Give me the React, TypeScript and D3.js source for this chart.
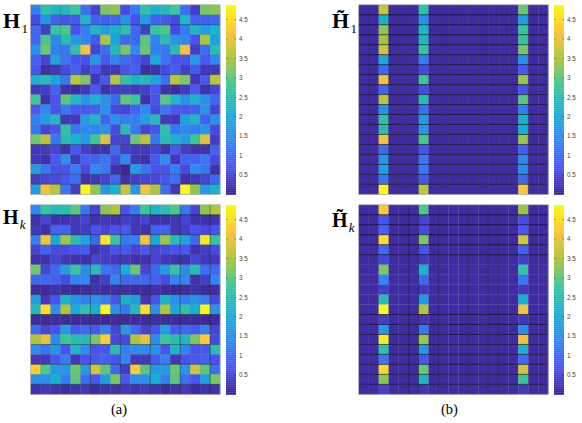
import React from "react";
import * as d3 from "d3";

const H1: number[][] = [
[1.3,2.6,2.3,2.4,2.8,1.1,0.5,3.2,3.3,0.6,1.2,2.6,2.2,2.4,2.8,1.1,0.4,3.2,3.3],
[0.6,1.7,0.9,0.7,0.8,2.3,0.9,0.9,1.0,1.7,0.7,1.8,0.9,0.8,0.6,2.3,0.9,0.9,1.0],
[1.0,0.4,2.7,2.9,0.7,1.3,2.3,1.8,2.2,2.6,1.0,0.4,2.7,2.9,0.6,1.3,2.3,1.8,2.2],
[1.0,2.9,1.5,2.5,1.7,1.4,0.8,3.5,1.9,1.0,1.0,3.0,1.4,2.5,1.7,1.4,0.7,3.5,1.9],
[1.6,3.1,1.3,1.2,2.6,4.1,0.5,1.1,2.4,3.2,1.5,3.1,1.3,1.2,2.5,4.1,0.4,1.1,2.5],
[0.9,0.5,1.9,1.2,0.7,0.7,1.7,0.8,1.4,1.0,0.8,0.5,2.0,1.2,0.7,0.7,1.7,0.8,1.4],
[0.8,0.15,0.3,0.6,0.9,0.4,0.7,0.3,0.3,0.7,0.9,0.15,0.2,0.6,0.9,0.4,0.8,0.3,0.3],
[2.2,2.4,1.9,1.2,3.6,3.2,0.3,0.8,3.6,2.6,2.2,2.4,1.9,1.1,3.6,3.2,0.3,0.8,3.6],
[0.3,0.4,0.9,0.2,0.1,0.3,0.8,0.2,0.4,0.4,0.3,0.4,0.8,0.2,0.1,0.3,0.8,0.2,0.5],
[2.8,0.2,0.7,3.0,2.3,1.7,2.2,1.6,1.0,3.0,2.8,0.2,0.7,3.0,2.3,1.6,2.2,1.6,1.0],
[0.8,1.5,0.7,1.2,0.8,0.8,0.9,1.6,0.6,0.5,0.9,1.5,0.6,1.2,0.8,0.8,0.9,1.6,0.5],
[1.3,1.8,2.3,0.3,0.3,1.8,2.3,0.9,1.6,1.3,1.3,1.8,2.4,0.3,0.3,1.8,2.3,0.9,1.6],
[1.2,0.5,0.7,2.6,1.2,1.5,1.4,1.7,0.6,2.5,1.2,0.5,0.7,2.6,1.2,1.5,1.3,1.7,0.6],
[3.1,3.6,1.2,2.5,2.2,1.8,2.8,3.9,0.5,0.5,3.1,3.6,1.2,2.5,2.2,1.8,2.8,3.9,0.4],
[0.3,0.3,0.5,0.2,0.8,0.4,0.2,0.2,1.0,0.4,0.3,0.3,0.5,0.2,0.8,0.4,0.2,0.2,0.9],
[0.3,0.2,0.8,1.6,0.3,0.9,0.9,1.2,0.6,1.5,0.3,0.2,0.8,1.6,0.3,0.9,0.9,1.2,0.6],
[1.8,1.2,0.7,0.7,1.3,0.6,1.5,1.2,0.2,0.05,1.8,1.2,0.7,0.7,1.3,0.6,1.5,1.2,0.2],
[0.4,0.5,0.6,0.8,1.1,0.2,0.3,0.5,1.0,0.2,0.4,0.5,0.6,0.8,1.1,0.2,0.3,0.5,1.0],
[1.8,4.1,3.6,1.2,0.4,4.85,3.3,1.7,2.2,3.7,1.7,4.1,3.5,1.1,0.3,4.85,3.3,1.7,2.2],
];

const Hk: number[][] = [
[1.4,2.7,2.4,2.5,3.0,1.2,0.5,3.3,3.5,0.7,1.3,2.8,2.3,2.5,2.9,1.2,0.5,3.3,3.5],
[0.2,0.5,0.2,0.2,0.3,0.5,0.2,0.3,0.2,0.4,0.3,0.5,0.2,0.2,0.3,0.5,0.2,0.2,0.2],
[0.3,0.2,0.9,0.9,0.3,0.4,0.7,0.5,0.7,0.8,0.3,0.2,0.9,0.9,0.3,0.4,0.7,0.6,0.7],
[1.3,4.1,2.0,3.4,2.5,1.9,1.0,4.6,2.7,1.2,1.3,4.1,2.0,3.4,2.5,1.9,1.0,4.6,2.7],
[0.5,0.9,0.6,0.6,0.7,0.8,0.2,0.4,0.7,0.8,0.5,0.8,0.5,0.6,0.7,0.8,0.2,0.4,0.6],
[0.2,0.2,0.5,0.3,0.2,0.2,0.5,0.4,0.3,0.3,0.2,0.2,0.5,0.3,0.2,0.2,0.5,0.3,0.3],
[3.1,0.5,1.0,1.8,2.7,1.5,2.5,1.2,1.0,2.1,3.1,0.5,1.0,1.8,2.7,1.5,2.5,1.1,1.0],
[1.0,1.0,0.9,0.6,1.4,1.4,0.2,0.4,1.4,1.0,1.0,1.0,0.9,0.6,1.4,1.4,0.2,0.4,1.4],
[0.1,0.1,0.2,0.1,0.05,0.1,0.2,0.1,0.15,0.15,0.1,0.1,0.2,0.1,0.05,0.1,0.2,0.1,0.15],
[1.8,0.3,0.7,2.2,1.6,1.3,1.6,1.3,0.7,2.2,1.8,0.3,0.7,2.2,1.6,1.3,1.6,1.3,0.6],
[2.4,4.5,1.6,3.5,2.0,2.6,2.1,4.85,1.6,1.2,2.4,4.5,1.6,3.5,2.0,2.6,2.1,4.85,1.6],
[0.1,0.1,0.15,0.1,0.1,0.1,0.1,0.05,0.1,0.1,0.1,0.1,0.15,0.1,0.1,0.1,0.1,0.05,0.1],
[1.0,0.5,0.7,1.8,0.8,1.0,0.8,1.3,0.5,1.7,1.0,0.5,0.7,1.8,0.8,1.0,0.8,1.3,0.5],
[3.5,4.0,1.5,2.8,2.5,2.4,3.2,4.3,0.6,0.6,3.5,4.0,1.5,2.8,2.5,2.3,3.2,4.3,0.6],
[1.5,1.2,1.7,0.7,2.3,1.5,0.7,0.8,2.5,1.3,1.5,1.5,1.6,0.7,2.3,1.4,0.7,0.8,2.5],
[0.3,0.3,0.8,1.3,0.3,0.7,0.8,0.9,0.7,1.4,0.3,0.3,0.8,1.3,0.3,0.7,0.8,0.9,0.7],
[4.3,2.9,1.7,1.7,3.1,1.7,3.8,3.0,1.0,0.4,4.3,3.0,1.7,1.7,3.1,1.7,3.8,3.0,1.1],
[1.6,1.6,2.1,1.3,3.0,1.1,0.8,1.8,3.2,0.8,1.6,1.6,2.1,1.3,3.0,1.1,0.8,1.8,3.2],
[0.2,0.3,0.2,0.1,0.2,0.3,0.1,0.2,0.2,0.3,0.2,0.3,0.2,0.1,0.2,0.3,0.1,0.2,0.2],
];

const sparseColumns = [2, 6, 16];
const sparseBackground = 0.12;

const H1Tilde: number[][] = [
[3.7,2.6,3.1],[2.2,1.6,1.8],[3.3,2.3,2.7],[3.4,2.3,2.7],[3.8,2.7,3.2],
[2.0,1.3,1.6],[1.0,0.6,0.8],[4.1,2.8,3.4],[0.9,0.6,0.7],[3.6,2.5,3.0],
[1.6,1.1,1.3],[2.6,1.8,2.2],[2.5,1.7,2.1],[4.1,2.9,3.4],[1.0,0.7,0.9],
[1.7,1.2,1.4],[1.8,1.2,1.5],[1.2,0.8,1.0],[4.85,3.6,4.2],
];

const HkTilde: number[][] = [
[4.2,2.9,3.4],[0.7,0.5,0.6],[0.9,0.6,0.8],[4.5,3.2,3.8],[1.0,0.7,0.9],
[0.5,0.3,0.4],[3.2,2.2,2.7],[1.4,1.0,1.2],[0.4,0.3,0.3],[2.5,1.7,2.1],
[4.85,3.5,4.1],[0.4,0.25,0.3],[1.7,1.2,1.5],[4.7,3.4,4.1],[2.6,1.7,2.2],
[1.2,0.8,1.0],[4.4,3.1,3.8],[3.3,2.3,2.8],[0.4,0.25,0.3],
];

const colorbarTicks = [0.5, 1, 1.5, 2, 2.5, 3, 3.5, 4, 4.5];
const tickText = ["0.5", "1", "1.5", "2", "2.5", "3", "3.5", "4", "4.5"];
const parula = ["#3e2699", "#4852f4", "#2d87f7", "#12b1d6", "#37c897", "#abc739", "#fec338", "#f9fb14"];

const domain: [number, number] = [0.03, 4.87];
const color = d3
  .scaleLinear<string>()
  .domain(parula.map((_, i) => domain[0] + ((domain[1] - domain[0]) * i) / (parula.length - 1)))
  .range(parula)
  .clamp(true);

const expand = (rows: number[][]) =>
  rows.map((r) => {
    const full = new Array(19).fill(sparseBackground);
    sparseColumns.forEach((c, i) => (full[c] = r[i]));
    return full;
  });

const hStrong = {
  a1: [2, 7, 14, 17, 18],
  a2: [1, 3, 9, 11, 12, 14, 16, 18],
  b1: [1, 2, 3, 4, 5, 6, 7, 8, 9, 10, 11, 12, 13, 14, 15, 16, 17, 18],
  b2: [1, 2, 3, 4, 5, 11, 12, 13, 14, 15, 16, 17, 18],
};
const vStrong = {
  a1: [3, 9],
  a2: [6, 9, 12, 15, 18],
  b1: [1, 3, 4, 5, 6, 8, 9, 10, 11, 12, 13, 14, 15, 17],
  b2: [5, 6, 8, 11, 13, 14],
};

function Heat({ x0, y0, data, h, v, weak, hMax, vMax }: { x0: number; y0: number; data: number[][]; h: number[]; v: number[]; weak: number; hMax: number; vMax: number }) {
  const size = 189.5;
  const ids = d3.range(19);
  const xs = d3.scaleBand<number>().domain(ids).range([x0, x0 + size]);
  const ys = d3.scaleBand<number>().domain(ids).range([y0, y0 + size]);
  const step = xs.step();
  return (
    <g>
      {data.map((row, r) =>
        row.map((val, c) => (
          <rect key={`${r}-${c}`} x={xs(c)} y={ys(r)} width={step + 0.2} height={step + 0.2} fill={color(val)} />
        ))
      )}
      {d3.range(1, 19).map((i) => (
        <line key={`h${i}`} x1={x0} x2={x0 + size} y1={y0 + i * step} y2={y0 + i * step} stroke="#000"
          strokeWidth={0.8} strokeOpacity={h.includes(i) ? hMax : weak} />
      ))}
      {d3.range(1, 19).map((i) => (
        <line key={`v${i}`} y1={y0} y2={y0 + size} x1={x0 + i * step} x2={x0 + i * step} stroke="#000"
          strokeWidth={0.8} strokeOpacity={v.includes(i) ? vMax : weak} />
      ))}
      <rect x={x0} y={y0} width={size} height={size} fill="none" stroke="#a8a8a8" strokeWidth={0.7} />
    </g>
  );
}

function Colorbar({ x0, y0 }: { x0: number; y0: number }) {
  const height = 188.5;
  const w = 10;
  const y = d3.scaleLinear().domain(domain).range([y0 + height, y0]);
  const levels = d3.range(0, 95).map((i) => domain[0] + ((domain[1] - domain[0]) * i) / 94);
  const bandH = height / 94;
  return (
    <g>
      {levels.map((l) => (
        <rect key={l} x={x0} y={Math.max(y0, y(l) - bandH / 2)} width={w} height={bandH + 0.3} fill={color(l)} />
      ))}
      {colorbarTicks.map((t, i) => (
        <g key={t}>
          <line x1={x0} x2={x0 + 1.5} y1={y(t)} y2={y(t)} stroke="#333" strokeWidth={0.5} />
          <line x1={x0 + w - 1.5} x2={x0 + w} y1={y(t)} y2={y(t)} stroke="#333" strokeWidth={0.5} />
          <text x={x0 + w + 3} y={y(t) + 2.2} fontSize={6.3} fontFamily="'Liberation Sans', sans-serif" fill="#444">
            {tickText[i]}
          </text>
        </g>
      ))}
    </g>
  );
}

function Label({ x, y, tilde, sub, italic, size }: { x: number; y: number; tilde?: boolean; sub: string; italic?: boolean; size: number }) {
  return (
    <g fontFamily="'Liberation Serif', serif" fill="#000">
      <text x={x} y={y} fontSize={size} fontWeight="bold">{tilde ? "H\u0303" : "H"}</text>
      <text x={x + size * 0.84} y={y + 5} fontSize={13} fontStyle={italic ? "italic" : "normal"}>{sub}</text>
    </g>
  );
}

export default function App() {
  const xA = 30.6, xB = 358.7, yTop = 4.8, yBot = 204.8;
  return (
    <svg width={582} height={423} style={{ position: "absolute", left: 0, top: 0, background: "#fff" }}>
      <Heat x0={xA} y0={yTop} data={H1} h={hStrong.a1} v={vStrong.a1} weak={0.1} hMax={0.45} vMax={0.25} />
      <Heat x0={xA} y0={yBot} data={Hk} h={hStrong.a2} v={vStrong.a2} weak={0.12} hMax={0.5} vMax={0.5} />
      <Heat x0={xB} y0={yTop} data={expand(H1Tilde)} h={hStrong.b1} v={vStrong.b1} weak={0.1} hMax={0.75} vMax={0.35} />
      <Heat x0={xB} y0={yBot} data={expand(HkTilde)} h={hStrong.b2} v={vStrong.b2} weak={0.05} hMax={0.75} vMax={0.55} />
      <Colorbar x0={226} y0={5} />
      <Colorbar x0={226} y0={205} />
      <Colorbar x0={554} y0={5} />
      <Colorbar x0={554} y0={205} />
      <Label x={3} y={28} sub="1" size={22} />
      <Label x={3} y={224} sub="k" italic size={20} />
      <Label x={332} y={28} tilde sub="1" size={22} />
      <Label x={332} y={227} tilde sub="k" italic size={20} />
      <text x={119} y={414} textAnchor="middle" fontSize={14.5} fontFamily="'Liberation Serif', serif">(a)</text>
      <text x={449.5} y={414} textAnchor="middle" fontSize={14.5} fontFamily="'Liberation Serif', serif">(b)</text>
    </svg>
  );
}
